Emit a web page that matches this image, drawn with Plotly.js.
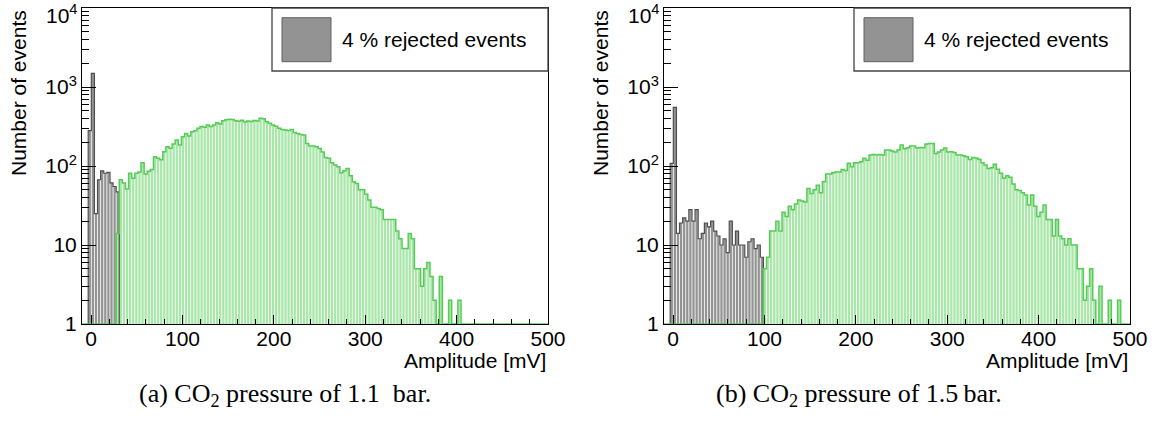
<!DOCTYPE html>
<html>
<head>
<meta charset="utf-8">
<script src="https://cdn.plot.ly/plotly-3.0.1.min.js"></script>
<style>html,body{margin:0;padding:0;background:#fff;}#chart{width:1160px;height:428px;}</style>
</head>
<body>
<div id="chart"></div>
<script>
// ---- histogram binning (150 bins from -10 to 500 mV) ----
const binLow = -10;
const binWidth = 3.4;
const nBins = 150;

// ---- (a) CO2 1.1 bar ----
const leftRejectedStart = 2;
const leftRejected = [280, 1490, 25, 67, 87, 81, 83, 61, 55, 47];
const leftAcceptedStart = 11;
const leftAccepted = [14, 67, 61, 51, 81, 70, 81, 84, 110, 79,
  86, 90, 131, 125, 120, 151, 175, 168, 190, 214,
  184, 235, 258, 240, 272, 280, 300, 316, 310, 331,
  316, 331, 354, 340, 375, 385, 392, 388, 375, 368,
  380, 360, 372, 365, 378, 370, 402, 395, 362, 347,
  330, 318, 300, 290, 286, 282, 290, 265, 258, 250,
  246, 193, 179, 179, 175, 167, 150, 128, 125, 110,
  103, 98, 82, 87, 93, 75, 63, 60, 50, 50,
  44, 37, 30, 30, 29, 28, 21, 21, 21, 21,
  15, 12, 9, 9, 14, 12, 5, 5, 3, 5,
  6, 4, 2, 0, 4, 0, 0, 2, 0, 0, 2];

// ---- (b) CO2 1.5 bar ----
const rightRejectedStart = 2;
const rightRejected = [108, 553, 14, 19, 22, 20, 28, 20, 28, 12,
  14, 19, 17, 20, 15, 13, 10, 12, 8, 20,
  10, 15, 10, 10, 7, 11, 12, 9, 10, 7];
const rightAcceptedStart = 32;
const rightAccepted = [5, 7, 15, 15, 20, 15, 26, 23, 31, 28,
  33, 37, 36, 35, 52, 45, 50, 57, 46, 63,
  79, 79, 82, 84, 84, 90, 88, 108, 98, 110,
  110, 113, 125, 118, 138, 140, 138, 140, 138, 159,
  159, 155, 150, 159, 185, 165, 170, 179, 179, 169,
  172, 170, 190, 192, 192, 144, 150, 159, 169, 150,
  152, 148, 138, 138, 135, 131, 121, 128, 126, 122,
  110, 103, 93, 95, 105, 91, 81, 70, 75, 72,
  59, 50, 49, 46, 43, 32, 43, 31, 23, 26,
  32, 21, 21, 13, 21, 13, 12, 10, 12, 10,
  10, 5, 5, 2, 3, 5, 2, 0, 3, 0,
  0, 2, 0, 0, 2];

// ---- text ----
const yTickVals = [1, 10, 100, 1000, 10000];
const yTickText = ['1', '10', '10<sup>2</sup>', '10<sup>3</sup>', '10<sup>4</sup>'];
const legendText = '4 % rejected events';
const xTitle = 'Amplitude [mV]';
const yTitle = 'Number of events';
const captionA = '(a) CO<sub>2</sub> pressure of 1.1\u00a0\u00a0bar.';
const captionB = '(b) CO<sub>2</sub> pressure of 1.5\u2009bar.';

// ---------------------------------------------------------------
const W = 1160, H = 428;
const px = x => x / W;
const py = y => 1 - y / H;
const FLOOR = 1; // bottom of the log axis (10^0)

function edge(k) { return binLow + binWidth * k; }

function barTrace(start, counts, xa, ya, color) {
  const x = [], y = [];
  counts.forEach((v, i) => {
    if (v > 0) { x.push(edge(start + i) + binWidth / 2); y.push(v); }
  });
  return {
    type: 'bar', x: x, y: y, width: binWidth * 0.74,
    xaxis: xa, yaxis: ya, hoverinfo: 'skip', showlegend: false,
    marker: { color: color, line: { width: 0 } }
  };
}

function outlineTrace(start, counts, xa, ya, color, width, full) {
  let s = start, vals = counts.slice();
  if (full) {
    const arr = new Array(nBins).fill(0);
    counts.forEach((v, i) => { arr[start + i] = v; });
    s = 0; vals = arr;
  }
  const x = [edge(s)], y = [FLOOR];
  vals.forEach((v, i) => { x.push(edge(s + i)); y.push(v > 0 ? v : FLOOR); });
  x.push(edge(s + vals.length)); y.push(FLOOR);
  return {
    type: 'scatter', mode: 'lines', x: x, y: y, xaxis: xa, yaxis: ya,
    line: { shape: 'hv', color: color, width: width },
    hoverinfo: 'skip', showlegend: false
  };
}

const grayFill = '#939393', greenFill = '#a9e6a9';
const grayLine = '#4e4e4e', greenLine = '#55cc55';

const data = [
  barTrace(leftRejectedStart, leftRejected, 'x', 'y', grayFill),
  barTrace(leftAcceptedStart, leftAccepted, 'x', 'y', greenFill),
  outlineTrace(leftRejectedStart, leftRejected, 'x', 'y', grayLine, 1.2, false),
  outlineTrace(leftAcceptedStart, leftAccepted, 'x', 'y', greenLine, 1.5, true),
  barTrace(rightRejectedStart, rightRejected, 'x2', 'y2', grayFill),
  barTrace(rightAcceptedStart, rightAccepted, 'x2', 'y2', greenFill),
  outlineTrace(rightRejectedStart, rightRejected, 'x2', 'y2', grayLine, 1.2, false),
  outlineTrace(rightAcceptedStart, rightAccepted, 'x2', 'y2', greenLine, 1.5, true)
];

const font = { family: 'Liberation Sans, Arial, sans-serif', size: 21, color: '#000' };

const minorY = [];
for (let d = 1; d < 10000; d *= 10) for (let m = 2; m <= 9; m++) minorY.push(d * m);

function xAxis(l, r, anchor) {
  return {
    domain: [px(l), px(r)], range: [binLow, 500], anchor: anchor,
    tick0: 0, dtick: 100, ticks: 'inside', ticklen: 9, tickwidth: 1, tickcolor: '#000',
    minor: { dtick: 20, ticks: 'inside', ticklen: 5, tickwidth: 1, tickcolor: '#000', showgrid: false },
    showline: true, linecolor: '#000', linewidth: 1, mirror: true,
    showgrid: false, zeroline: false, tickfont: font, fixedrange: true,
    ticklabelstandoff: -4, ticklabeloverflow: 'allow'
  };
}
function yAxis(anchor) {
  return {
    type: 'log', range: [0, 4], domain: [py(324), py(8)], anchor: anchor,
    tickmode: 'array', tickvals: yTickVals.slice(0, 4), ticktext: yTickText.slice(0, 4),
    ticks: 'inside', ticklen: 14, tickwidth: 1, tickcolor: '#000',
    minor: { tickmode: 'array', tickvals: minorY, ticks: 'inside', ticklen: 7, tickwidth: 1, tickcolor: '#000', showgrid: false },
    showline: true, linecolor: '#000', linewidth: 1, mirror: true,
    showgrid: false, zeroline: false, tickfont: font, fixedrange: true,
    ticklabeloverflow: 'allow'
  };
}

function legendShapes(l, r) {
  return [
    { type: 'rect', xref: 'paper', yref: 'paper', x0: px(l), x1: px(r), y0: py(71), y1: py(8),
      fillcolor: '#fff', line: { color: '#444', width: 1.3 }, layer: 'above' },
    { type: 'rect', xref: 'paper', yref: 'paper', x0: px(l + 10), x1: px(l + 59), y0: py(61.7), y1: py(17.7),
      fillcolor: grayFill, line: { color: '#606060', width: 1 }, layer: 'above' }
  ];
}

function ann(text, x, y, xanchor, yanchor, extra) {
  return Object.assign({ text: text, xref: 'paper', yref: 'paper', x: x, y: y,
    xanchor: xanchor, yanchor: yanchor, showarrow: false, font: font }, extra || {});
}

const serif = { family: 'Liberation Serif, Times New Roman, serif', size: 26, color: '#000' };

// the top decade label sits slightly lower than its tick (as in the original)
const topLabel = yTickText[4];

const layout = {
  width: W, height: H, margin: { l: 0, r: 0, t: 0, b: 0 },
  paper_bgcolor: '#fff', plot_bgcolor: '#fff', barmode: 'overlay', showlegend: false,
  xaxis: xAxis(82, 548, 'y'), yaxis: yAxis('x'),
  xaxis2: xAxis(664, 1130, 'y2'), yaxis2: yAxis('x2'),
  shapes: legendShapes(272, 548).concat(legendShapes(854, 1130)),
  annotations: [
    ann(topLabel, px(79), py(0), 'right', 'top', { borderpad: 0 }),
    ann(topLabel, px(661), py(0), 'right', 'top', { borderpad: 0 }),
    ann(legendText, px(340), py(39.5), 'left', 'middle'),
    ann(legendText, px(922), py(39.5), 'left', 'middle'),
    ann(yTitle, px(18), py(8), 'center', 'top', { textangle: -90 }),
    ann(yTitle, px(600), py(8), 'center', 'top', { textangle: -90 }),
    ann(xTitle, px(548), py(360), 'right', 'middle'),
    ann(xTitle, px(1130), py(360), 'right', 'middle'),
    ann(captionA, px(285), py(395), 'center', 'middle', { font: serif }),
    ann(captionB, px(859), py(395), 'center', 'middle', { font: serif })
  ]
};

Plotly.newPlot('chart', data, layout, { displayModeBar: false, staticPlot: true });
</script>
</body>
</html>
